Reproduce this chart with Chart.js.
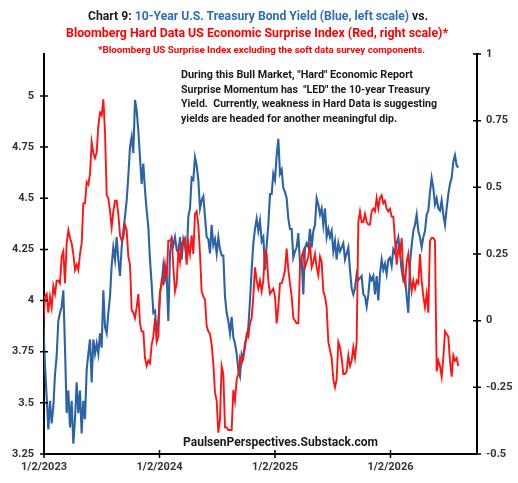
<!DOCTYPE html>
<html lang="en">
<head>
<meta charset="UTF-8">
<title>Chart 9 - Treasury Yield vs Hard Data Surprise Index</title>
<script src="https://cdn.jsdelivr.net/npm/chart.js"></script>
<style>
  body { margin: 0; background: #fff; }
  #wrap { position: relative; width: 518px; height: 483px; overflow: hidden; font-family: Roboto, "Open Sans", sans-serif; }
  #chart { position: absolute; left: 0; top: 0; }
  .txt { position: absolute; white-space: pre; font-weight: bold; line-height: 1; color: #1a1a1a; }
  .txt > span { display: inline-block; transform-origin: 0 50%; }
  .blue { color: #2e6db4; }
  .red { color: #ff0000; }
</style>
</head>
<body>
<div id="wrap">
  <canvas id="chart" width="518" height="483"></canvas>

  <!-- titles -->
  <div class="txt" data-x="88" data-y="16" data-w="340" style="font-size:12.5px"><span>Chart 9: <span class="blue">10-Year U.S. Treasury Bond Yield (Blue, left scale)</span> vs.</span></div>
  <div class="txt red" data-x="66" data-y="33" data-w="382" style="font-size:12.5px"><span>Bloomberg Hard Data US Economic Surprise Index (Red, right scale)*</span></div>
  <div class="txt red" data-x="98" data-y="50" data-w="327" style="font-size:9.5px"><span>*Bloomberg US Surprise Index excluding the soft data survey components.</span></div>

  <!-- note -->
  <div class="txt" data-x="181" data-y="75" data-w="232" style="font-size:10.5px"><span>During this Bull Market, "Hard" Economic Report</span></div>
  <div class="txt" data-x="181" data-y="90" data-w="249" style="font-size:10.5px"><span>Surprise Momentum has  "LED" the 10-year Treasury</span></div>
  <div class="txt" data-x="181" data-y="104" data-w="256" style="font-size:10.5px"><span>Yield.  Currently, weakness in Hard Data is suggesting</span></div>
  <div class="txt" data-x="181" data-y="119" data-w="216" style="font-size:10.5px"><span>yields are headed for another meaningful dip.</span></div>

  <div class="txt" data-x="183" data-y="442" data-w="195" style="font-size:12.5px"><span>PaulsenPerspectives.Substack.com</span></div>
</div>

<script>
// 10-year yield (left scale), roughly every 5 days from the start of 2023
const yieldValues = [
  3.89,3.68,3.53,3.37,3.51,3.40,3.48,3.64,3.73,3.90,3.94,3.97,4.05,3.77,3.45,3.56,3.38,3.51,3.30,3.42,
  3.60,3.45,3.56,3.35,3.51,3.42,3.66,3.74,3.81,3.60,3.81,3.74,3.79,3.74,3.84,3.77,4.05,3.87,3.84,3.94,
  4.02,4.17,4.26,4.20,4.31,4.20,4.12,4.26,4.34,4.41,4.49,4.61,4.75,4.80,4.72,4.98,4.93,4.83,4.70,4.57,
  4.67,4.54,4.44,4.36,4.20,
  4.08,3.94,3.95,3.84,3.90,4.04,4.08,4.17,4.10,4.13,3.90,4.23,4.30,4.27,4.31,4.25,4.23,4.31,4.20,4.30,
  4.27,4.20,4.41,4.45,4.60,4.59,4.70,4.66,4.59,4.45,4.49,4.51,4.41,4.31,4.30,4.23,4.37,4.27,4.30,4.23,
  4.31,4.25,4.22,4.22,4.02,3.94,3.90,3.84,3.92,3.82,3.79,3.74,3.66,3.63,3.74,3.72,3.79,3.82,3.87,4.00,
  4.15,4.28,4.35,
  4.40,4.34,4.39,4.29,4.31,4.15,4.27,4.37,4.52,4.52,4.62,4.59,4.71,4.79,4.62,4.64,4.55,4.53,4.50,4.40,
  4.35,4.35,4.21,4.24,4.26,4.33,4.18,4.20,4.03,4.26,4.28,4.26,4.35,4.26,4.34,4.37,4.50,4.47,4.42,4.45,
  4.37,4.45,4.31,4.35,4.31,4.34,4.24,4.29,4.20,4.28,4.24,4.26,4.28,4.20,4.23,4.26,4.15,4.06,4.03,4.06,
  4.13,4.10,4.11,
  4.12,4.03,4.02,3.97,4.03,4.12,4.10,4.12,4.03,4.12,4.00,4.13,4.20,4.15,4.18,4.13,4.20,4.21,4.17,4.25,
  4.23,4.28,4.31,4.23,4.15,4.10,4.12,4.02,3.94,4.18,4.27,4.34,4.37,4.42,4.34,4.31,4.26,4.31,4.34,4.42,
  4.44,4.53,4.60,4.55,4.47,4.50,4.45,4.44,4.49,4.42,4.37,4.45,4.52,4.57,4.60,4.68,4.71,4.66,4.65
];

// Bloomberg hard data surprise index (right scale), same dates
const surpriseValues = [
  -0.01,0.09,0.10,0.03,0.09,0.05,0.13,0.10,0.15,0.15,0.14,0.24,0.26,0.14,0.29,0.34,0.31,0.29,0.25,0.19,
  0.21,0.19,0.25,0.29,0.44,0.44,0.52,0.51,0.55,0.67,0.63,0.61,0.63,0.73,0.78,0.77,0.83,0.71,0.47,0.46,
  0.41,0.35,0.41,0.45,0.45,0.40,0.32,0.30,0.31,0.36,0.34,0.24,0.21,0.04,0.03,0.01,0.05,0.10,-0.01,-0.04,
  -0.04,-0.14,-0.17,-0.15,-0.16,
  -0.09,-0.06,0.01,-0.08,-0.06,0.10,0.15,0.14,0.21,0.16,0.30,0.30,0.31,0.20,0.11,0.14,0.26,0.22,0.29,0.30,
  0.31,0.21,0.29,0.25,0.32,0.25,0.40,0.41,0.36,0.25,0.11,0.09,0.08,-0.02,-0.04,-0.05,-0.09,-0.16,-0.27,-0.30,
  -0.42,-0.37,-0.17,-0.20,-0.40,-0.40,-0.41,-0.41,-0.41,-0.26,-0.30,-0.22,-0.20,-0.14,-0.16,-0.13,-0.10,-0.05,-0.06,-0.01,
  0.01,0.09,0.20,
  0.15,0.12,0.15,0.11,0.15,0.26,0.25,0.15,0.10,0.11,0.12,0.09,-0.01,0.05,0.14,0.14,0.16,0.19,0.27,0.19,
  0.14,0.09,0.01,0.00,-0.01,-0.01,0.20,0.24,0.26,0.20,0.22,0.24,0.29,0.20,0.22,0.25,0.20,0.17,0.24,0.22,
  0.11,0.09,0.05,-0.08,-0.11,-0.14,-0.22,-0.25,-0.22,-0.08,-0.10,-0.14,-0.20,-0.20,-0.19,-0.13,-0.17,-0.15,-0.10,-0.14,
  -0.08,0.37,0.41,
  0.37,0.37,0.40,0.37,0.36,0.36,0.41,0.42,0.41,0.46,0.42,0.46,0.47,0.44,0.45,0.42,0.41,0.42,0.39,0.39,
  0.30,0.21,0.27,0.25,0.31,0.17,0.14,0.22,0.25,0.17,0.11,0.15,0.12,0.15,0.14,0.25,0.15,0.09,0.05,0.10,
  0.03,0.30,0.31,0.31,0.30,-0.19,-0.15,-0.17,-0.21,-0.14,-0.04,-0.05,-0.06,-0.15,-0.21,-0.13,-0.15,-0.14,-0.17
];

// dates as decimal years
const firstYear = 2022.9942;
const stepYears = 0.01443;

const xTickYears = [2023, 2024, 2025, 2026];
const leftTicks = [3.25, 3.5, 3.75, 4, 4.25, 4.5, 4.75, 5];
const rightTicks = [-0.5, -0.25, 0, 0.25, 0.5, 0.75, 1];

const toPoints = vals => vals.map((v, i) => ({ x: firstYear + i * stepYears, y: v }));

const tickFont = { family: 'Roboto', weight: 'bold', size: 11 };

// Excel style tick marks crossing the axis line
const crossTicks = {
  id: 'crossTicks',
  afterDraw(chart) {
    const ctx = chart.ctx;
    const xs = chart.scales.x, yl = chart.scales.yLeft, yr = chart.scales.yRight;
    ctx.save();
    ctx.strokeStyle = '#000';
    ctx.lineWidth = 1.5;
    ctx.beginPath();
    xs.ticks.forEach(t => {
      const p = xs.getPixelForValue(t.value);
      ctx.moveTo(p, xs.top - 4); ctx.lineTo(p, xs.top + 4);
    });
    yl.ticks.forEach(t => {
      const p = yl.getPixelForValue(t.value);
      ctx.moveTo(yl.right - 4, p); ctx.lineTo(yl.right + 4, p);
    });
    yr.ticks.forEach(t => {
      const p = yr.getPixelForValue(t.value);
      ctx.moveTo(yr.left - 4, p); ctx.lineTo(yr.left + 4, p);
    });
    ctx.stroke();
    ctx.restore();
  }
};

new Chart(document.getElementById('chart'), {
  type: 'line',
  data: {
    datasets: [
      {
        label: 'Hard Data Surprise Index',
        data: toPoints(surpriseValues),
        yAxisID: 'yRight',
        borderColor: '#ff1414',
        borderWidth: 1.9,
        pointRadius: 0,
        order: 1
      },
      {
        label: '10-Year Yield',
        data: toPoints(yieldValues),
        yAxisID: 'yLeft',
        borderColor: '#2c63a4',
        borderWidth: 2.1,
        pointRadius: 0,
        order: 2
      }
    ]
  },
  options: {
    responsive: false,
    animation: false,
    layout: { padding: { top: 54, left: 0, right: 0, bottom: 0 } },
    plugins: { legend: { display: false }, tooltip: { enabled: false } },
    scales: {
      x: {
        type: 'linear',
        min: 2023,
        max: 2026.749,
        afterBuildTicks: s => { s.ticks = xTickYears.map(v => ({ value: v })); },
        afterFit: s => { s.height = 29; },
        grid: { display: false, drawTicks: false },
        border: { display: true, color: '#000', width: 2 },
        ticks: { font: tickFont, color: '#333', padding: 7, maxRotation: 0, callback: v => '1/2/' + v }
      },
      yLeft: {
        position: 'left',
        min: 3.25,
        max: 5.205,
        afterBuildTicks: s => { s.ticks = leftTicks.map(v => ({ value: v })); },
        afterFit: s => { s.width = 44; },
        grid: { display: false, drawTicks: false },
        border: { display: true, color: '#000', width: 2 },
        ticks: { font: tickFont, color: '#333', padding: 10, callback: v => String(v) }
      },
      yRight: {
        position: 'right',
        min: -0.5,
        max: 1,
        afterBuildTicks: s => { s.ticks = rightTicks.map(v => ({ value: v })); },
        afterFit: s => { s.width = 41; },
        grid: { display: false, drawTicks: false },
        border: { display: true, color: '#000', width: 2 },
        ticks: { font: tickFont, color: '#333', padding: 9, callback: v => String(v) }
      }
    }
  },
  plugins: [crossTicks]
});

// squeeze each text line to the width it has in the original
document.querySelectorAll('.txt').forEach(el => {
  const span = el.firstElementChild;
  const natural = span.getBoundingClientRect().width;
  const target = +el.dataset.w;
  span.style.transform = 'scaleX(' + (target / natural) + ')';
  el.style.left = el.dataset.x + 'px';
  el.style.top = (+el.dataset.y - el.getBoundingClientRect().height / 2) + 'px';
});
</script>
</body>
</html>
